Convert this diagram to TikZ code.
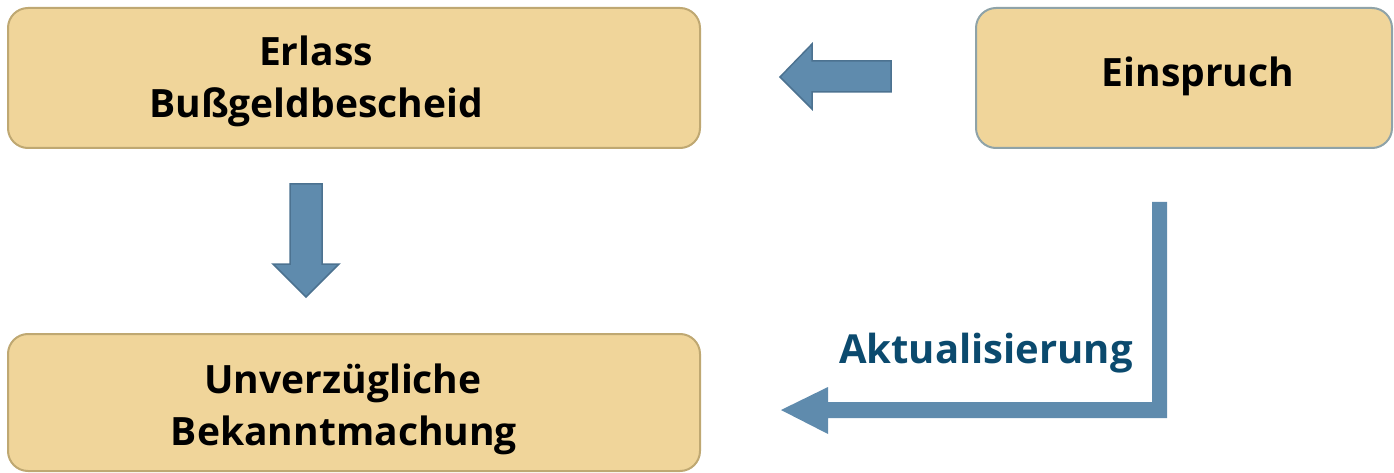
\documentclass[tikz,border=0pt]{standalone}
\usepackage{fontspec}
\setmainfont{Open Sans}
\definecolor{boxfill}{HTML}{F0D59A}
\definecolor{boxline}{HTML}{BFA872}
\definecolor{boxlineb}{HTML}{8FA3A8}
\definecolor{arrfill}{HTML}{5F8BAD}
\definecolor{arrline}{HTML}{4C7290}
\definecolor{labcol}{HTML}{0B4A6E}
\begin{document}
\begin{tikzpicture}[x=1pt,y=-1pt,
  box/.style={draw=boxline,line width=2pt,fill=boxfill,rounded corners=20pt},
  boxtext/.style={font=\fontsize{39}{52}\selectfont\bfseries,text=black,anchor=base,inner sep=0pt},
  blockarrow/.style={fill=arrfill,draw=arrline,line width=1.5pt,line join=miter},
  flatarrow/.style={fill=arrfill,draw=none}]
\useasboundingbox (0,0) rectangle (1394,473);
% boxes
\draw[box] (8,8) rectangle (700,148);
\draw[box,draw=boxlineb] (976,8) rectangle (1392,148);
\draw[box] (8,334) rectangle (700,471);
% box texts
\node[boxtext] (t1) at (316,66) {Erlass};
\node[boxtext] (t2) at (316,118) {Bußgeldbescheid};
\node[boxtext] (t3) at (1198,87) {Einspruch};
\node[boxtext] (t4) at (343,393) {Unverzügliche};
\node[boxtext] (t5) at (344,445) {Bekanntmachung};
% left block arrow
\draw[blockarrow] (780,77) -- (812,44) -- (812,61) -- (891,61) -- (891,92) -- (812,92) -- (812,109) -- cycle;
% down block arrow
\draw[blockarrow] (290,184) -- (322,184) -- (322,264) -- (339,264) -- (306,297) -- (273,264) -- (290,264) -- cycle;
% bent arrow
\fill[flatarrow] (1152,202) -- (1167,202) -- (1167,418) -- (828,418) -- (828,434) -- (781,410) -- (828,387) -- (828,402) -- (1152,402) -- cycle;
\node[font=\fontsize{40}{48}\selectfont\bfseries,text=labcol,anchor=base,inner sep=0pt] (lab) at (986,363) {Aktualisierung};
\end{tikzpicture}
\end{document}
